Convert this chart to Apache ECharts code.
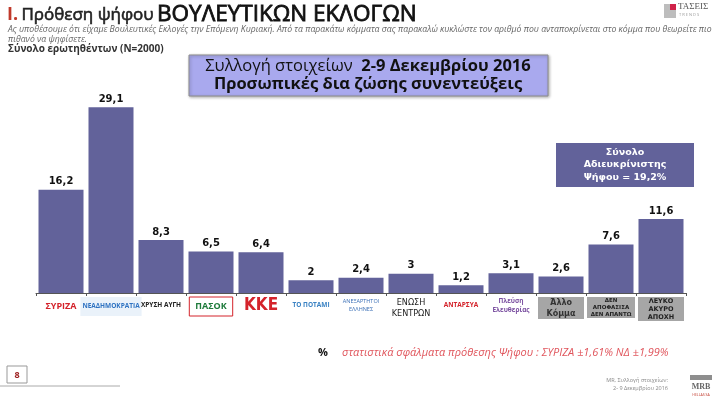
<!DOCTYPE html>
<html>
<head>
<meta charset="utf-8">
<script src="https://cdn.jsdelivr.net/npm/echarts@6/dist/echarts.min.js"></script>
<style>
  html, body { margin: 0; padding: 0; background: #fff; }
  #chart { width: 720px; height: 400px; }
</style>
</head>
<body>
<div id="chart"></div>
<script>
    var dom = document.getElementById( "chart" );
    var myChart = echarts.init( dom );

    // κατηγορίες (κόμματα) και ποσοστά
    var parties = [ 'syriza', 'nd', 'xa', 'pasok', 'kke', 'potami', 'anel',
                    'ek', 'antarsya', 'plefsi', 'allo', 'den', 'lefko' ];
    var partyLabels = [
        '{syriza|ΣΥΡΙΖΑ}',
        '{nd|ΝΕΑΔΗΜΟΚΡΑΤΙΑ}',
        '{xa|ΧΡΥΣΗ ΑΥΓΗ}',
        '{pasok|ΠΑΣΟΚ}',
        '{kke|ΚΚΕ}',
        '{potami|ΤΟ ΠΟΤΑΜΙ}',
        '{anel|ΑΝΕΞΑΡΤΗΤΟΙ\nΕΛΛΗΝΕΣ}',
        '{ek|ΕΝΩΣΗ\nΚΕΝΤΡΩΝ}',
        '{antarsya|ΑΝΤΑΡΣΥΑ}',
        '{plefsi|Πλεύση\nΕλευθερίας}',
        '{grey|Άλλο\nΚόμμα}',
        '{greys|ΔΕΝ\nΑΠΟΦΑΣΙΣΑ\nΔΕΝ ΑΠΑΝΤΩ}',
        '{greym|ΛΕΥΚΟ\nΑΚΥΡΟ\nΑΠΟΧΗ}'
    ];
    var voteValues = [ 16.2, 29.1, 8.3, 6.5, 6.4, 2, 2.4, 3, 1.2, 3.1, 2.6, 7.6, 11.6 ];

    var barColor = '#62629A';
    var sans = '"Open Sans", "Noto Sans", sans-serif';

    var rich = {
        syriza:   { color: '#D4232B', fontWeight: 'bold', fontSize: 9, fontFamily: sans, padding: [5, 0] },
        nd:       { color: '#2F73C2', fontSize: 6.5, fontWeight: 'bold', backgroundColor: '#EAF2FA', padding: [6, 2], fontFamily: sans },
        xa:       { color: '#222', fontSize: 6.5, fontWeight: 'bold', fontFamily: sans, padding: [5, 0] },
        pasok:    { color: '#1D7A3A', fontSize: 9, fontWeight: 'bold', borderColor: '#D4232B', borderWidth: 1, padding: [5, 6], fontFamily: sans },
        kke:      { color: '#D4232B', fontSize: 17, fontWeight: 'bold', fontFamily: '"Liberation Sans Narrow", "DejaVu Sans Condensed", sans-serif' },
        potami:   { color: '#3B83C4', fontSize: 6.5, fontWeight: 'bold', fontFamily: sans, padding: [5, 0] },
        anel:     { color: '#3B6FB6', fontSize: 5.5, lineHeight: 8, fontFamily: sans },
        ek:       { color: '#222', fontSize: 9, lineHeight: 11, fontFamily: '"DejaVu Sans Condensed", sans-serif' },
        antarsya: { color: '#D4232B', fontSize: 6.5, fontWeight: 'bold', fontFamily: sans, padding: [5, 0] },
        plefsi:   { color: '#7A4FA0', fontSize: 6.5, lineHeight: 9, fontWeight: 'bold', fontFamily: sans },
        grey:     { color: '#333', fontSize: 8, fontWeight: 'bold', lineHeight: 11, height: 11, width: 46, align: 'center',
                    backgroundColor: '#A6A6A6', fontFamily: '"DejaVu Sans", sans-serif' },
        greys:    { color: '#222', fontSize: 5.5, fontWeight: 'bold', lineHeight: 7, height: 7, width: 48, align: 'center',
                    backgroundColor: '#A6A6A6', fontFamily: '"DejaVu Sans", sans-serif' },
        greym:    { color: '#222', fontSize: 6.5, fontWeight: 'bold', lineHeight: 8, height: 8, width: 46, align: 'center',
                    backgroundColor: '#A6A6A6', fontFamily: '"DejaVu Sans", sans-serif' }
    };

    var option = {
        backgroundColor: '#ffffff',
        animation: false,
        grid: { left: 36, right: 34, top: 101.6, bottom: 107, containLabel: false },
        xAxis: {
            type: 'category',
            data: parties,
            axisLine: { lineStyle: { color: '#555', width: 1 } },
            axisTick: { show: true, length: 3, lineStyle: { color: '#555' } },
            axisLabel: {
                interval: 0,
                margin: 4,
                formatter: function( value, idx ) { return partyLabels[idx]; },
                rich: rich
            }
        },
        yAxis: {
            type: 'value',
            min: 0,
            max: 30,
            show: false,
            splitLine: { show: false }
        },
        series: [{
            type: 'bar',
            data: voteValues,
            barCategoryGap: '10%',
            itemStyle: { color: barColor },
            label: {
                show: true,
                position: 'top',
                distance: 3,
                color: '#111',
                fontSize: 10,
                fontWeight: 'bold',
                fontFamily: '"DejaVu Sans", sans-serif',
                formatter: function( p ) { return String( p.value ).replace( '.', ',' ); }
            }
        }],
        graphic: [
            // τίτλος
            {
                type: 'text', left: 7, top: 3,
                style: {
                    text: '{r|I.} {a|Πρόθεση ψήφου} {b|ΒΟΥΛΕΥΤΙΚΩΝ ΕΚΛΟΓΩΝ}',
                    rich: {
                        r: { fill: '#C0392B', fontSize: 18, fontFamily: sans, fontWeight: 'bold' },
                        a: { fill: '#222', fontSize: 17, fontFamily: sans, stroke: '#222', lineWidth: 0.6 },
                        b: { fill: '#111', fontSize: 22.5, fontFamily: sans, stroke: '#111', lineWidth: 0.8 }
                    }
                }
            },
            {
                type: 'text', left: 8, top: 25,
                style: {
                    text: 'Ας υποθέσουμε ότι είχαμε Βουλευτικές Εκλογές την Επόμενη Κυριακή. Από τα παρακάτω κόμματα σας παρακαλώ κυκλώστε τον αριθμό που ανταποκρίνεται στο κόμμα που θεωρείτε πιο\nπιθανό να ψηφίσετε.',
                    fill: '#666', fontSize: 8.7, fontStyle: 'italic', lineHeight: 10, fontFamily: '"Liberation Sans Narrow", ' + sans
                }
            },
            {
                type: 'text', left: 8, top: 44,
                style: { text: 'Σύνολο ερωτηθέντων (N=2000)', fill: '#333', fontSize: 10, fontWeight: 'bold', fontFamily: sans }
            },
            // πλαίσιο συλλογής στοιχείων
            {
                type: 'rect', shape: { x: 189, y: 55, width: 359, height: 41 },
                style: { fill: '#A9A9EE', stroke: '#8C8C8C', lineWidth: 1, shadowBlur: 3, shadowColor: 'rgba(0,0,0,0.3)', shadowOffsetX: 1, shadowOffsetY: 1 }
            },
            {
                type: 'text', x: 368, y: 75,
                style: {
                    text: '{n|Συλλογή στοιχείων  }{b|2-9 Δεκεμβρίου 2016}\n{b|Προσωπικές δια ζώσης συνεντεύξεις}',
                    align: 'center', verticalAlign: 'middle',
                    rich: {
                        n: { fill: '#111', fontSize: 16.5, fontFamily: sans, lineHeight: 18 },
                        b: { fill: '#111', fontSize: 16.5, fontWeight: 'bold', fontFamily: sans, lineHeight: 18 }
                    }
                }
            },
            // αδιευκρίνιστη ψήφος
            {
                type: 'rect', shape: { x: 556, y: 143, width: 138, height: 44 },
                style: { fill: barColor }
            },
            {
                type: 'text', x: 625, y: 165,
                style: {
                    text: 'Σύνολο\nΑδιευκρίνιστης\nΨήφου = 19,2%',
                    align: 'center', verticalAlign: 'middle',
                    fill: '#fff', fontSize: 9.5, fontWeight: 'bold', lineHeight: 12.5, fontFamily: '"DejaVu Sans", sans-serif'
                }
            },
            // λογότυπο ΤΑΣΕΙΣ
            {
                type: 'rect', shape: { x: 664, y: 4, width: 12, height: 14 },
                style: { fill: '#BDBDBD' }
            },
            {
                type: 'rect', shape: { x: 670, y: 4, width: 6, height: 6 },
                style: { fill: '#D0234A' }
            },
            {
                type: 'text', left: 678, top: 2,
                style: { text: 'ΤΑΣΕΙΣ', fill: '#555', fontSize: 9, fontFamily: '"Liberation Serif", serif' }
            },
            {
                type: 'text', left: 679, top: 13,
                style: { text: 'T R E N D S', fill: '#999', fontSize: 4, fontFamily: sans }
            },
            // σφάλματα
            {
                type: 'text', left: 318, top: 347,
                style: { text: '%', fill: '#111', fontSize: 11, fontWeight: 'bold', fontFamily: sans }
            },
            {
                type: 'text', left: 342, top: 347,
                style: {
                    text: 'στατιστικά σφάλματα πρόθεσης Ψήφου : ΣΥΡΙΖΑ ±1,61% ΝΔ ±1,99%',
                    fill: '#E0555C', fontSize: 11, fontStyle: 'italic', fontFamily: sans
                }
            },
            // αριθμός σελίδας
            {
                type: 'rect', shape: { x: 7, y: 366, width: 20, height: 17 },
                style: { fill: '#fff', stroke: '#999', lineWidth: 1 }
            },
            {
                type: 'text', x: 17, y: 375,
                style: { text: '8', align: 'center', verticalAlign: 'middle', fill: '#9B1B1B', fontSize: 9, fontWeight: 'bold', fontFamily: sans }
            },
            {
                type: 'line', shape: { x1: 0, y1: 386, x2: 120, y2: 386 },
                style: { stroke: '#AAA', lineWidth: 1 }
            },
            // πηγή
            {
                type: 'text', x: 668, y: 384,
                style: {
                    text: 'MR, Συλλογή στοιχείων:\n2- 9 Δεκεμβρίου 2016',
                    align: 'right', verticalAlign: 'middle',
                    fill: '#888', fontSize: 5.5, lineHeight: 8, fontFamily: sans
                }
            },
            {
                type: 'rect', shape: { x: 690, y: 375, width: 22, height: 5 },
                style: { fill: '#8E8E8E' }
            },
            {
                type: 'text', x: 701, y: 387,
                style: { text: 'MRB', align: 'center', verticalAlign: 'middle', fill: '#666', fontSize: 8, fontWeight: 'bold', fontFamily: '"Liberation Serif", serif' }
            },
            {
                type: 'text', x: 701, y: 395,
                style: { text: 'HELLAS SA', align: 'center', verticalAlign: 'middle', fill: '#C0392B', fontSize: 3.5, fontFamily: sans }
            }
        ]
    };

    if ( option && typeof option === "object" ) {
        myChart.setOption( option, true );
    }

    window.onresize = function() {
        myChart.resize();
    };
</script>
</body>
</html>
